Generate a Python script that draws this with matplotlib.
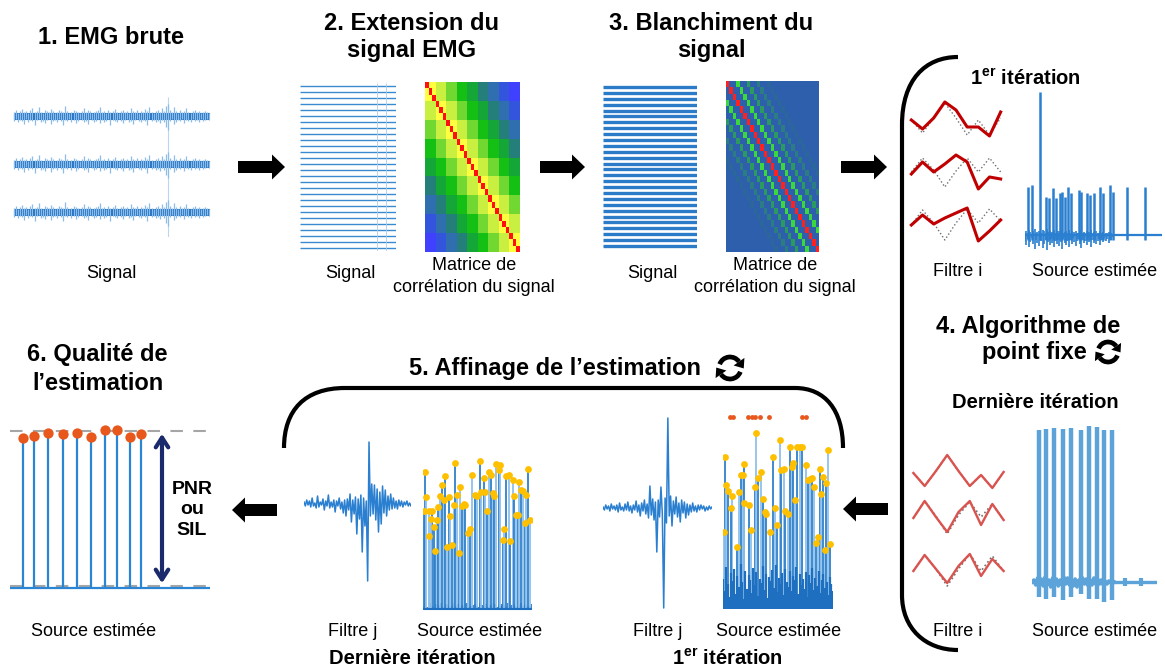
import numpy as np
import matplotlib
matplotlib.use("Agg")
import matplotlib.pyplot as plt
import matplotlib.patches as mpatches
from matplotlib.path import Path
from matplotlib.colors import LinearSegmentedColormap

plt.rcParams["font.family"] = ["Liberation Sans", "DejaVu Sans"]
plt.rcParams["mathtext.fontset"] = "custom"
plt.rcParams["mathtext.rm"] = "Liberation Sans"
plt.rcParams["mathtext.bf"] = "Liberation Sans:bold"

W, H = 1165, 670

# ---------------- data ----------------
# 1. raw EMG (upper / lower excursions per sample, px)
emg_peaks = [4, 6, 3, 5, 7, 4, 5, 3, 6, 8, 4, 5, 9, 4, 3, 6, 5, 4, 7, 5,
             3, 4, 6, 5, 4, 10, 5, 3, 4, 6, 5, 4, 3, 5, 8, 4, 6, 5, 3, 4,
             5, 6, 9, 4, 5, 3, 6, 4, 5, 7, 4, 3, 5, 6, 4, 5, 3, 8, 5, 4,
             6, 3, 5, 4, 7, 5, 9, 4, 3, 5, 6, 4, 8, 5, 10, 12, 6, 4, 9, 5,
             3, 6, 4, 5, 8, 4, 3, 5, 6, 4, 5, 3, 4, 5, 4, 3]
emg_troughs = [5, 3, 6, 4, 5, 8, 3, 6, 4, 5, 9, 4, 3, 6, 5, 7, 4, 3, 8, 5,
               4, 6, 3, 5, 9, 4, 5, 3, 6, 4, 7, 5, 3, 4, 6, 5, 8, 3, 4, 6,
               5, 3, 7, 4, 6, 5, 3, 9, 4, 5, 6, 3, 5, 7, 4, 3, 6, 5, 8, 4,
               3, 5, 6, 4, 5, 9, 3, 5, 4, 6, 5, 7, 4, 6, 11, 14, 5, 3, 8, 6,
               4, 5, 3, 7, 4, 5, 6, 3, 5, 4, 6, 3, 5, 4, 3, 4]
emg_channels = ["ch1", "ch2", "ch3"]
emg_artifact_sample = 75

# 2./3. extended and whitened signal
n_ext_channels = 28
ext_corr_by_lag = [0.82, 0.70, 0.60, 0.50, 0.42, 0.30, 0.20, 0.10, 0.0]
white_corr_by_lag = [1.0, 0, 0, 0.72, 0, 0, 0.45, 0, 0, 0.33, 0, 0, 0.2, 0,
                     0, 0, 0, 0, 0, 0, 0, 0, 0, 0, 0, 0, 0]

# 4. fixed point: filters (template = gray dotted, estimate = red)
filt_template_first = [[-2, -15, 0, 15, 0, -17, -2, -17, 0],
                       [0, 14, 2, -15, 1, 14, 0, 14, 0],
                       [-2, 13, 0, -17, 0, 14, 0, 14, 2]]
filt_est_first = [[-2, -11, 0, 16, 8, -9, -9, -18, 6],
                  [-2, 10, 0, 8, 17, 10, -17, -5, -7],
                  [-2, 8, -1, 5, 10, 15, -18, -8, 3]]
filt_template_last = [[0, -13, 2, 18, 2, -13, -2, -15, 1],
                      [-1, 16, 1, -17, 2, 15, 0, 13, -3],
                      [-2, 14, 0, -17, 0, 15, -2, 13, -2]]
filt_est_last = [[0, -13, 2, 18, 2, -13, -2, -15, 1],
                 [-1, 16, 0, -15, 5, 16, -8, 13, -3],
                 [-2, 14, 0, -14, 3, 15, -7, 10, -2]]

# source, first iteration (time 0-100, height px)
src1_times = [2.5, 5.1, 11, 15.4, 17.4, 20.3, 22.8, 25.2, 27.2, 28.9, 31.4,
              33.8, 39.5, 41.2, 45.3, 47.3, 50.2, 54.7, 56.6, 62, 64.5, 74.3, 87.7]
src1_heights = [48, 50, 143, 38, 37, 47, 37, 42, 43, 38, 48, 42, 45, 43, 42,
                40, 42, 48, 42, 50, 43, 48, 48]
src1_noise = [-6, -10, -4, -12, -7, -3, -9, -14, -5, -8, -11, -4, -6, -13, -9,
              -5, -15, -7, -10, -4, -8, -12, -6, -9, -5, -11, -7, -14, -4, -8,
              -10, -6, -12, -5, -9, -3, -7, -11, -6, -4, -9, -13, -5, -8, -6,
              -10, -4, -7, -12, -5, -8, -3, -9, -6, -4, -10, -5, -7, -3, -6,
              -4, -8, -3, -5, -2]

# source, last iteration
srcN_times = [5.9, 11.2, 17.3, 24.8, 31.5, 38.9, 45.3, 52, 57.9, 64]
srcN_tops = [152, 153, 154, 153, 154, 152, 156, 155, 152, 152]
srcN_bottoms = [-15, -17, -15, -18, -15, -12, -17, -17, -20, -18]
srcN_noise = [0, 2, -3, 4, -2, 3, -4, 5, -3, 2, -5, 4, -2, 3, -4, 2, -3, 5, -2,
              4, -3, 2, -4, 3, -5, 2, -3, 4, -2, 3, -4, 2, -3, 4, -2, 3, -2, 2,
              -3, 1, -2, 1, 0, 1, 0]
srcN_blips = [74.7, 87.2]

# 5. refinement: filter j
filtj_last = [2, -2, 4, -1, 3, -3, 6, -2, 1, -4, 8, -3, 2, -1, 5, -6, 3, -2, 9, -4,
              2, -3, 4, -8, 3, -2, 6, -5, 2, -9, 4, -12, 5, -6, 10, -18, 4, -10, 7, -30,
              5, -15, 9, -48, 6, -22, 3, -77, 62, -12,
              20, -10, 19, -16, 15, -28, 12, -20, 18, -9, 14, -12, 8, -6, 10, -5, 6, -4, 3, -5,
              4, -2, 3, -3, 2, -1, 3, -2, 1, -2]
filtj_first = [1, -2, 3, -1, 2, -3, 4, -1, 2, -2, 3, -4, 5, -2, 1, -3, 4, -2, 6, -3,
               2, -5, 3, -2, 7, -4, 3, -8, 5, -3, 8, -6, 4, -10, 22, -7, 9, -12, 6, -44,
               8, -9, 21, -6, -100, 10, -15, 90, -8, 12,
               -18, 7, -6, 11, -9, 5, -14, 8, -5, 6, -10, 4, -7, 3, -4, 5, -3, 2, -4, 3,
               -2, 3, -1, 2, -3, 1, -2, 2, -1, 1]

# refinement sources: detected spikes (time 0-100, height px)
refN_times = [1.5, 3.1, 1.2, 5.2, 8.3, 7.3, 9.8, 5.8, 11.3, 12.8, 14.1, 15.9, 17.4,
              19, 20.5, 22, 23.5, 25.1, 26.6, 28.1, 29.7, 31.2, 33.3, 34.3, 35.8,
              37.3, 38.8, 41, 42.8, 45.3, 47.4, 49.5, 52, 53.5, 55.7, 56.6, 58.7,
              60.9, 62.7, 64.2, 65.4, 67.3, 69.4, 70.9, 73.1, 74.6, 76.5, 78.6,
              80.1, 82.3, 83.2, 85.6, 87.2, 88.4, 89.9, 91.4, 93.3, 94.8, 96.3, 98.5]
refN_heights = [137, 112, 98, 98, 98, 90, 82, 73, 58, 89, 102, 113, 124, 109, 133,
                62, 112, 93, 64, 104, 146, 114, 56, 122, 103, 105, 104, 76, 80, 134,
                114, 113, 148, 117, 131, 117, 98, 137, 134, 116, 113, 145, 139, 144,
                69, 80, 133, 134, 68, 129, 113, 94, 94, 127, 119, 118, 86, 114, 140, 89]
refN_floor = [3, 5, 2, 4, 6, 3, 2, 5, 4, 3, 6, 2, 4, 5, 3, 2, 4, 6, 3, 5, 2, 4, 3,
              5, 6, 2, 3, 4, 5, 3, 2, 6, 4, 3, 5, 2, 4, 3, 6, 5, 2, 4, 3, 5, 4, 2,
              6, 3, 4, 5, 3, 2, 4, 6, 3, 5, 4, 2, 3, 5]

ref1_times = [1.5, 3, 4.5, 8.5, 7.6, 0.9, 12.7, 14.5, 16.7, 18.2, 19.4, 19.1, 23.6,
              25.2, 28.8, 30.3, 31.8, 34.5, 36.1, 37.9, 39.4, 43, 45.5, 47.3, 49.4,
              51.5, 53, 55.2, 56.4, 58.8, 60.6, 62.4, 63.6, 65.5, 67.3, 69.7, 71.5,
              75.8, 77.3, 79.4, 81.2, 82.7, 84.2, 86.1, 87.9, 89.1, 90.9, 92.4,
              93.9, 95.8, 97.6]
ref1_heights = [152, 124, 118, 113, 101, 77, 62, 117, 134, 134, 145, 106, 104, 79,
                122, 176, 131, 137, 110, 97, 95, 77, 152, 101, 84, 169, 139, 140, 98,
                95, 162, 142, 146, 109, 162, 162, 162, 144, 129, 130, 131, 122, 66,
                72, 140, 115, 132, 59, 126, 159, 65]
ref1_floor = [30, 18, 42, 25, 12, 36, 28, 40, 15, 33, 22, 45, 27, 10, 38, 20, 34, 29,
              16, 41, 24, 37, 13, 30, 26, 43, 19, 35, 11, 32, 28, 39, 21, 44, 17, 31,
              25, 36, 14, 40, 27, 22, 38, 18, 33, 29, 42, 15, 35, 24, 30, 20, 37, 12,
              34, 26, 41, 19, 31, 23, 38, 16, 29, 35, 21, 27, 14, 32, 25, 18]
ref1_marker_times = [6, 9, 23, 26, 29, 34, 42, 72, 75]
ref1_marker_level = 192

# 6. quality of the estimate
qual_times = [6.7, 11.8, 19, 26.6, 33.6, 40.3, 47.6, 53.4, 60.2, 65.5]
qual_heights = [150, 152, 155, 154, 155, 151, 158, 158, 151, 154]
qual_noise_level = 2
qual_peak_level = 157

# ---------------- figure ----------------
fig = plt.figure(figsize=(W / 100, H / 100), dpi=100)
ax0 = fig.add_axes([0, 0, 1, 1])
ax0.set_xlim(0, W)
ax0.set_ylim(H, 0)
ax0.set_axis_off()


def panel(x0, y0, x1, y1, xlim=None, ylim=None):
    ax = fig.add_axes([x0 / W, 1 - y1 / H, (x1 - x0) / W, (y1 - y0) / H])
    ax.set_axis_off()
    if xlim is not None:
        ax.set_xlim(*xlim)
    if ylim is not None:
        ax.set_ylim(*ylim)
    return ax


def title(x, y, s, size=17):
    ax0.text(x, y, s, ha="center", va="center", fontsize=size, fontweight="bold")


def label(x, y, s, size=13):
    ax0.text(x, y, s, ha="center", va="center", fontsize=size)


def block_arrow(x, y, dx):
    ax0.add_patch(mpatches.FancyArrow(x, y, dx, 0, width=12, head_width=25,
                                      head_length=13, length_includes_head=True,
                                      color="black", lw=0))


def refresh_icon(cx, cy, r):
    for a0 in (200, 20):
        a1 = a0 + 125
        ax0.add_patch(mpatches.Arc((cx, cy), 2 * r, 2 * r, theta1=a0, theta2=a1,
                                   lw=3.4, color="black"))
        th = np.deg2rad(a1)
        bx, by = cx + r * np.cos(th), cy + r * np.sin(th)
        tx, ty = -np.sin(th), np.cos(th)
        nx, ny = np.cos(th), np.sin(th)
        hw, hl = 0.6 * r, 0.75 * r
        ax0.add_patch(mpatches.Polygon([(bx + nx * hw, by + ny * hw),
                                        (bx - nx * hw, by - ny * hw),
                                        (bx + tx * hl, by + ty * hl)],
                                       color="black", lw=0))


def bracket(verts):
    codes = [Path.MOVETO, Path.CURVE4, Path.CURVE4, Path.CURVE4, Path.LINETO,
             Path.CURVE4, Path.CURVE4, Path.CURVE4]
    ax0.add_patch(mpatches.PathPatch(Path(verts, codes), fill=False, lw=3, color="black"))


# titles and labels
title(111, 37, "1. EMG brute")
title(412, 23, "2. Extension du")
title(412, 50, "signal EMG")
title(711, 23, "3. Blanchiment du")
title(711, 50, "signal")
title(1028, 327, "4. Algorithme de")
title(1034, 352, "point fixe")
title(555, 368, "5. Affinage de l’estimation")
title(97, 355, "6. Qualité de")
title(98, 383, "l’estimation")
title(1025, 79, r"1$^{\mathbf{er}}$ itération", size=14.5)
title(1035, 402, "Dernière itération", size=14.5)
title(412, 659, "Dernière itération", size=14.5)
title(727, 659, r"1$^{\mathbf{er}}$ itération", size=14.5)

label(111, 274, "Signal")
label(350, 274, "Signal")
label(474, 266, "Matrice de")
label(474, 287, "corrélation du signal")
label(652, 274, "Signal")
label(775, 266, "Matrice de")
label(775, 287, "corrélation du signal")
label(958, 272, "Filtre i")
label(1095, 272, "Source estimée")
label(958, 632, "Filtre i")
label(1095, 632, "Source estimée")
label(353, 632, "Filtre j")
label(480, 632, "Source estimée")
label(658, 632, "Filtre j")
label(779, 632, "Source estimée")
label(94, 632, "Source estimée")
ax0.text(192, 510, "PNR\nou\nSIL", ha="center", va="center", fontsize=14,
         fontweight="bold", linespacing=1.25)

block_arrow(238, 167, 47)
block_arrow(540, 167, 45)
block_arrow(841, 167, 46)
block_arrow(888, 509, -45)
block_arrow(277, 510, -45)

refresh_icon(1108, 352, 10)
refresh_icon(730, 368, 11)

bracket([(958, 57), (925, 57), (902, 80), (902, 125), (902, 595),
         (902, 628), (925, 650), (958, 650)])
bracket([(284, 448), (284, 410), (305, 388), (345, 388), (795, 388),
         (825, 388), (843, 410), (843, 448)])

# ---- 1. raw EMG ----
ax = panel(13, 95, 210, 237, xlim=(-0.5, len(emg_peaks) - 0.5), ylim=(-121, 21))
x = np.arange(len(emg_peaks))
pk = np.array(emg_peaks)
tr = -np.array(emg_troughs)
for k, _ in enumerate(emg_channels):
    off = -48 * k
    ax.vlines(x, off + tr, off + pk, color="#8cbde8", lw=0.9)
    ax.fill_between(x, off + np.maximum(tr, -3), off + np.minimum(pk, 3),
                    color="#1f6fc0", lw=0.8, edgecolor="#1f6fc0")
ax.vlines(emg_artifact_sample, -121, 19, color="#8cbde8", lw=0.8, alpha=0.6)

# ---- 2. extended signal + correlation matrix ----
ax = panel(300, 83, 396, 251, xlim=(0, 1), ylim=(n_ext_channels - 0.5, -0.5))
ax.hlines(np.arange(n_ext_channels), 0, 1, color="#3a8ad0", lw=1.0)
ax.vlines([0.8, 0.9], -0.5, n_ext_channels - 0.5, color="#a9cdee", lw=0.6)

idx = np.arange(27)
blk = idx // 3
ext_mat = np.array(ext_corr_by_lag)[np.abs(blk[:, None] - blk[None, :])]
np.fill_diagonal(ext_mat, 1.0)
ext_cmap = LinearSegmentedColormap.from_list("ext", [
    (0.0, "#4040ff"), (0.1, "#3355dd"), (0.2, "#2f6fb0"), (0.3, "#24807a"),
    (0.4, "#15a040"), (0.5, "#14c014"), (0.6, "#70d830"), (0.7, "#c8f040"),
    (0.8, "#ffff40"), (0.9, "#ffff40"), (1.0, "#ff1010")])
ax = panel(425, 82, 520, 252)
ax.imshow(ext_mat, cmap=ext_cmap, vmin=0, vmax=1, aspect="auto", interpolation="nearest")

# ---- 3. whitened signal + correlation matrix ----
ax = panel(603, 84, 697, 249, xlim=(0, 1), ylim=(n_ext_channels - 0.5, -0.5))
ax.hlines(np.arange(n_ext_channels), 0, 1, color="#2b7bc8", lw=2.4)

white_mat = np.array(white_corr_by_lag)[np.abs(idx[:, None] - idx[None, :])]
white_cmap = LinearSegmentedColormap.from_list("white", [
    (0.0, "#2e5fad"), (0.25, "#2c6a98"), (0.45, "#2a9a60"), (0.7, "#3ad83a"),
    (0.9, "#3ad83a"), (1.0, "#ff2020")])
ax = panel(726, 81, 819, 252)
ax.imshow(white_mat, cmap=white_cmap, vmin=0, vmax=1, aspect="auto", interpolation="nearest")

# ---- 4. fixed point algorithm ----
row_offsets_first = [0, -54, -105]
ax = panel(908, 90, 1004, 250, xlim=(-0.3, 8.3), ylim=(-132, 28))
for off, tmpl, est in zip(row_offsets_first, filt_template_first, filt_est_first):
    ax.plot(np.arange(len(tmpl)), np.array(tmpl) + off, color="#707070", lw=1.0, ls=":")
    ax.plot(np.arange(len(est)), np.array(est) + off, color="#c00000", lw=2.2)

ax = panel(1025, 85, 1162, 255, xlim=(0, 100), ylim=(-20, 150))
ax.plot([0, 100], [0, 0], color="#2a7fd0", lw=1.6)
noise_t = np.arange(len(src1_noise))
ax.vlines(noise_t, src1_noise, -0.4 * np.array(src1_noise), color="#2a7fd0", lw=1.2)
ax.vlines(src1_times, -5, src1_heights, color="#2a7fd0", lw=1.8)

row_offsets_last = [0, -44, -96]
ax = panel(910, 440, 1007, 600, xlim=(-0.3, 8.3), ylim=(-127, 33))
for off, tmpl, est in zip(row_offsets_last, filt_template_last, filt_est_last):
    ax.plot(np.arange(len(tmpl)), np.array(tmpl) + off, color="#707070", lw=1.2, ls=":")
    ax.plot(np.arange(len(est)), np.array(est) + off, color="#d9534f", lw=1.7)

ax = panel(1032, 420, 1157, 610, xlim=(0, 100), ylim=(-28, 162))
ax.plot([0, 100], [0, 0], color="#5ba3d9", lw=2.4)
ax.plot(np.linspace(0, 66, len(srcN_noise)), srcN_noise, color="#5ba3d9", lw=2.6)
ax.vlines(srcN_blips, -4, 4, color="#5ba3d9", lw=3)
ax.vlines(srcN_times, srcN_bottoms, srcN_tops, color="#5ba3d9", lw=3.2)

# ---- 5. refinement ----
ax = panel(304, 430, 411, 590, xlim=(0, len(filtj_last) - 1), ylim=(-86, 74))
ax.plot(np.arange(len(filtj_last)), filtj_last, color="#2a7fd0", lw=1.1)

ax = panel(423, 450, 532, 612, xlim=(0, 100), ylim=(-3, 159))
fl = np.linspace(0, 100, len(refN_floor))
ax.vlines(fl, 0, refN_floor, color="#1f6fc0", lw=1.2)
bar_colors = ["#2f80cc" if i % 2 == 0 else "#8fc0ea" for i in range(len(refN_times))]
ax.vlines(refN_times, 0, refN_heights, colors=bar_colors, lw=1.3)
ax.plot([0, 100], [0, 0], color="#1f6fc0", lw=1.5)
ax.scatter(refN_times, refN_heights, s=24, color="#ffc000", zorder=3, lw=0)

ax = panel(603, 410, 712, 615, xlim=(0, len(filtj_first) - 1), ylim=(-107, 98))
ax.plot(np.arange(len(filtj_first)), filtj_first, color="#2a7fd0", lw=1.1)

ax = panel(723, 405, 833, 612, xlim=(0, 100), ylim=(-3, 204))
bar_colors = ["#2f80cc" if i % 2 == 0 else "#8fc0ea" for i in range(len(ref1_times))]
ax.vlines(ref1_times, 0, ref1_heights, colors=bar_colors, lw=1.3)
fl = np.linspace(0, 100, len(ref1_floor))
ax.vlines(fl, 0, ref1_floor, color="#1f6fc0", lw=1.6)
ax.scatter(ref1_times, ref1_heights, s=24, color="#ffc000", zorder=3, lw=0)
ax.scatter(ref1_marker_times, [ref1_marker_level] * len(ref1_marker_times), s=12,
           color="#e8571c", zorder=3, lw=0)

# ---- 6. quality ----
ax = panel(10, 420, 210, 600, xlim=(0, 100), ylim=(-12, 168))
ax.plot([0, 100], [qual_peak_level] * 2, color="#a6a6a6", lw=1.5, dashes=(6, 5))
ax.plot([0, 100], [qual_noise_level] * 2, color="#a6a6a6", lw=1.5, dashes=(6, 5))
ax.plot([0, 100], [0, 0], color="#2a85d5", lw=1.6)
ax.vlines(qual_times, 0, qual_heights, color="#2a85d5", lw=1.6)
ax.scatter(qual_times, qual_heights, s=55, color="#e8571c", zorder=3, lw=0)
ax.annotate("", xy=(76, qual_peak_level), xytext=(76, qual_noise_level),
            arrowprops=dict(arrowstyle="<->,head_length=0.7,head_width=0.45",
                            color="#1a2a6c", lw=3))

fig.savefig("out.png", dpi=100)
